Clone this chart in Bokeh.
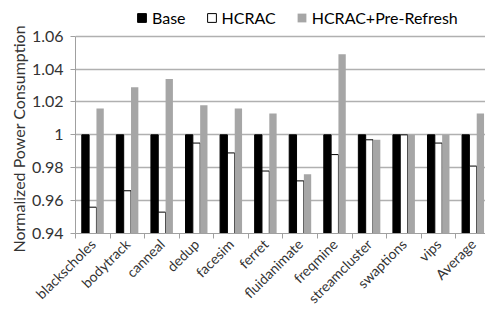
import numpy as np
from bokeh.plotting import figure
from bokeh.models import (ColumnDataSource, FixedTicker, Legend, LegendItem,
                          CustomJSTickFormatter, Range1d, Title)
from bokeh.transform import dodge
from bokeh.embed import file_html
from bokeh.resources import INLINE

categories = ["blackscholes", "bodytrack", "canneal", "dedup", "facesim", "ferret",
              "fluidanimate", "freqmine", "streamcluster", "swaptions", "vips", "Average"]
base = [1.0, 1.0, 1.0, 1.0, 1.0, 1.0, 1.0, 1.0, 1.0, 1.0, 1.0, 1.0]
hcrac = [0.956, 0.966, 0.953, 0.995, 0.989, 0.978, 0.972, 0.988, 0.997, 1.0, 0.995, 0.981]
hcrac_pr = [1.016, 1.029, 1.034, 1.018, 1.016, 1.013, 0.976, 1.049, 0.997, 1.0, 1.0, 1.013]
y_ticks = [0.94, 0.96, 0.98, 1.0, 1.02, 1.04, 1.06]

FONT = "Lato"
TXT = "#333333"

pos = [i + 0.5 for i in range(len(categories))]
src = ColumnDataSource(dict(x=pos, base=base, hcrac=hcrac, pr=hcrac_pr))

FIG_W, FIG_H = 485, 315
BOTTOM = 82          # space for the rotated category labels
LEFT = 75
frame_h = FIG_H - BOTTOM
y0, y1 = y_ticks[0], y_ticks[-1]
top_pad = (y1 - y0) * 35.7 / (frame_h - 35.7)   # room above 1.06 for the legend

p = figure(width=FIG_W, height=FIG_H, output_backend="svg", toolbar_location=None,
           x_range=Range1d(0, 11.86), y_range=Range1d(y0, y1 + top_pad),
           min_border_left=LEFT, min_border_right=0, min_border_top=0,
           min_border_bottom=BOTTOM)
p.outline_line_color = None
p.background_fill_color = "white"

w = 0.212
r1 = p.vbar(x=dodge("x", -w), top="base", bottom=y0, width=w,
            source=src, fill_color="black", line_color="black", line_width=1)
r2 = p.vbar(x=dodge("x", 0), top="hcrac", bottom=y0, width=w,
            source=src, fill_color="white", line_color="black", line_width=1)
r3 = p.vbar(x=dodge("x", w), top="pr", bottom=y0, width=w,
            source=src, fill_color="#a6a6a6", line_color=None)

# x axis
p.xaxis.ticker = FixedTicker(ticks=pos, minor_ticks=[float(i) for i in range(len(categories) + 1)])
p.xaxis.formatter = CustomJSTickFormatter(args=dict(labels=categories),
                                          code="return labels[Math.floor(tick)];")
p.xaxis.major_label_orientation = np.pi / 4
p.xaxis.major_tick_out = 0
p.xaxis.major_tick_in = 0
p.xaxis.minor_tick_out = 5
p.xaxis.minor_tick_in = 0
p.xaxis.minor_tick_line_color = "#a0a0a0"
p.xaxis.axis_line_color = "#a0a0a0"
p.xaxis.major_label_text_font = FONT
p.xaxis.major_label_text_font_size = "14px"
p.xaxis.major_label_text_color = TXT
p.xaxis.major_label_standoff = 3
p.xgrid.grid_line_color = None

# y axis
p.yaxis.ticker = FixedTicker(ticks=y_ticks)
p.yaxis.bounds = (y0, y1)
p.yaxis.formatter = CustomJSTickFormatter(code="return Math.abs(tick-1)<1e-9 ? '1' : tick.toFixed(2);")
p.yaxis.major_tick_out = 5
p.yaxis.major_tick_in = 0
p.yaxis.minor_tick_line_color = None
p.yaxis.major_tick_line_color = "#a0a0a0"
p.yaxis.axis_line_color = "#a0a0a0"
p.yaxis.major_label_text_font = FONT
p.yaxis.major_label_text_font_size = "16px"
p.yaxis.major_label_text_color = TXT
p.yaxis.major_label_standoff = 7
p.ygrid.grid_line_color = "#b0b0b0"
p.ygrid.grid_line_width = 1.5

ylab = Title(text="Normalized Power Consumption", align="left",
             offset=frame_h - 252,
             text_font=FONT, text_font_size="16px", text_font_style="normal",
             text_color=TXT, standoff=2)
p.add_layout(ylab, "left")

legend = Legend(items=[LegendItem(label="Base", renderers=[r1]),
                       LegendItem(label="HCRAC", renderers=[r2]),
                       LegendItem(label="HCRAC+Pre-Refresh", renderers=[r3])],
                orientation="horizontal", location=(136 - LEFT, frame_h - 27))
legend.label_text_font = FONT
legend.label_text_font_size = "16px"
legend.label_text_color = "black"
legend.label_height = 14
legend.glyph_width = 11
legend.glyph_height = 11
legend.label_standoff = 5
legend.spacing = 20
legend.padding = 0
legend.margin = 0
legend.border_line_color = None
legend.background_fill_alpha = 0
p.add_layout(legend, "center")

open("out.html", "w").write(file_html(p, INLINE))
